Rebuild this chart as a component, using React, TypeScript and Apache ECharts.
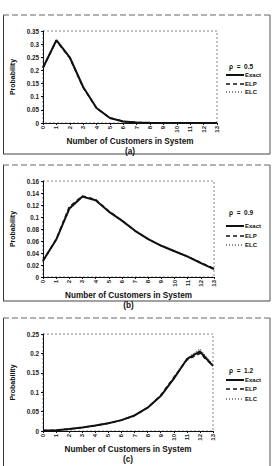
import React, { useEffect, useRef } from "react";
import * as echarts from "echarts";

const customers = ["0","1","2","3","4","5","6","7","8","9","10","11","12","13"];

const exactA = [0.21, 0.315, 0.25, 0.137, 0.057, 0.019, 0.006, 0.002, 0.0005, 0, 0, 0, 0, 0];
const elpA   = [0.21, 0.313, 0.247, 0.135, 0.056, 0.019, 0.006, 0.002, 0.0005, 0, 0, 0, 0, 0];
const elcA   = [0.21, 0.314, 0.249, 0.136, 0.056, 0.019, 0.006, 0.002, 0.0005, 0, 0, 0, 0, 0];

const exactB = [0.027, 0.062, 0.114, 0.134, 0.128, 0.109, 0.094, 0.077, 0.063, 0.052, 0.043, 0.034, 0.023, 0.013];
const elpB   = [0.027, 0.063, 0.117, 0.135, 0.129, 0.110, 0.094, 0.077, 0.063, 0.052, 0.043, 0.034, 0.024, 0.014];
const elcB   = [0.027, 0.062, 0.112, 0.133, 0.128, 0.109, 0.094, 0.077, 0.063, 0.052, 0.043, 0.035, 0.024, 0.013];

const exactC = [0.001, 0.002, 0.005, 0.009, 0.014, 0.02, 0.028, 0.04, 0.06, 0.09, 0.135, 0.185, 0.205, 0.168];
const elpC   = [0.001, 0.002, 0.005, 0.009, 0.014, 0.02, 0.028, 0.04, 0.06, 0.092, 0.138, 0.183, 0.2, 0.168];
const elcC   = [0.001, 0.002, 0.005, 0.009, 0.014, 0.02, 0.028, 0.04, 0.06, 0.091, 0.133, 0.187, 0.212, 0.17];

const panelTitles = ["(a)", "(b)", "(c)"];
const rhoLabels = ["\u03C1  =  0.5", "\u03C1  =  0.9", "\u03C1  =  1.2"];
const seriesNames = ["Exact", "ELP", "ELC"];
const yMax = [0.35, 0.16, 0.25];
const yStep = [0.05, 0.02, 0.05];

const FONT = "Liberation Sans, Arial, sans-serif";

export default function App() {
  const ref = useRef<HTMLDivElement>(null);
  useEffect(() => {
    if (!ref.current) return;
    const chart = echarts.init(ref.current, null, { renderer: "svg" });
    const grids = [
      { left: 43, top: 31, width: 174, height: 92 },
      { left: 43, top: 181, width: 171, height: 96 },
      { left: 43, top: 334, width: 170, height: 97 },
    ];
    const data = [
      [exactA, elpA, elcA],
      [exactB, elpB, elcB],
      [exactC, elpC, elcC],
    ];
    const lineStyles = [
      { type: "solid", width: 2 },
      { type: [4, 3], width: 1.5 },
      { type: [1, 2], width: 1 },
    ];
    const dashes: any[] = [null, [4, 3], [1, 2]];
    const widths = [2, 1.5, 1];
    const legendRows = [
      [75, 84, 92],
      [226, 236, 245],
      [380, 389, 399],
    ];
    const rhoY = [66, 212, 370];
    const boxes = [
      { top: 15, bottom: 154 },
      { top: 165, bottom: 301 },
      { top: 318, bottom: 470 },
    ];

    const series: any[] = [];
    data.forEach((set, gi) => {
      set.forEach((vals, si) => {
        series.push({
          type: "line",
          name: seriesNames[si],
          xAxisIndex: gi,
          yAxisIndex: gi,
          data: vals,
          symbol: "none",
          z: 3 - si,
          lineStyle: { color: "#111", ...lineStyles[si] },
          itemStyle: { color: "#111" },
        });
      });
    });

    const graphic: any[] = [];
    boxes.forEach((b) => {
      graphic.push(
        { type: "line", shape: { x1: 3.5, y1: b.top, x2: 3.5, y2: b.bottom }, style: { stroke: "#333", lineWidth: 1 } },
        { type: "line", shape: { x1: 270, y1: b.top, x2: 270, y2: b.bottom }, style: { stroke: "#555", lineWidth: 1 } },
        { type: "line", shape: { x1: 3, y1: b.top, x2: 270, y2: b.top }, style: { stroke: "#666", lineWidth: 1, lineDash: [6, 3] } },
        { type: "line", shape: { x1: 3, y1: b.bottom, x2: 270, y2: b.bottom }, style: { stroke: "#444", lineWidth: 1 } }
      );
    });
    grids.forEach((g, i) => {
      graphic.push({
        type: "rect",
        shape: { x: g.left, y: g.top, width: g.width, height: g.height },
        style: { fill: "none", stroke: "#888", lineWidth: 1, lineDash: [2, 2] },
        z: 0,
      });
      graphic.push({
        type: "text",
        x: 229,
        y: rhoY[i],
        style: { text: rhoLabels[i], font: `bold 6.5px ${FONT}`, fill: "#111", verticalAlign: "middle" },
      });
      legendRows[i].forEach((y, si) => {
        graphic.push({
          type: "line",
          shape: { x1: 226, y1: y, x2: 244, y2: y },
          style: { stroke: "#111", lineWidth: widths[si], lineDash: dashes[si] },
        });
        graphic.push({
          type: "text",
          x: 245,
          y,
          style: { text: seriesNames[si], font: `bold 6px ${FONT}`, fill: "#111", verticalAlign: "middle" },
        });
      });
    });

    chart.setOption({
      animation: false,
      backgroundColor: "#fff",
      grid: grids.map((g) => ({ ...g, containLabel: false })),
      xAxis: grids.map((_, i) => ({
        type: "category",
        gridIndex: i,
        data: customers,
        boundaryGap: false,
        axisLine: { lineStyle: { color: "#111", width: 1 } },
        axisTick: { show: true, length: 2, lineStyle: { color: "#111" } },
        axisLabel: { rotate: 90, fontSize: 6, fontWeight: "bold", color: "#222", fontFamily: FONT, margin: 3, interval: 0 },
        splitLine: { show: false },
        name: "Number of Customers in System\n" + panelTitles[i],
        nameLocation: "middle",
        nameGap: 10,
        nameTextStyle: { fontSize: 8.2, fontWeight: "bold", color: "#111", fontFamily: FONT, lineHeight: 10, verticalAlign: "top" },
      })),
      yAxis: grids.map((_, i) => ({
        type: "value",
        gridIndex: i,
        min: 0,
        max: yMax[i],
        interval: yStep[i],
        axisLine: { show: true, lineStyle: { color: "#111", width: 1 } },
        axisTick: { show: true, length: 2, lineStyle: { color: "#111" } },
        axisLabel: { fontSize: 6.3, fontWeight: "bold", color: "#222", fontFamily: FONT, margin: 4 },
        splitLine: { show: false },
        name: "Probability",
        nameLocation: "middle",
        nameGap: 24,
        nameTextStyle: { fontSize: 7, fontWeight: "bold", color: "#111", fontFamily: FONT },
      })),
      graphic,
      series,
    });
    return () => chart.dispose();
  }, []);
  return (
    <div
      ref={ref}
      style={{ position: "fixed", left: 0, top: 0, width: 273, height: 466, background: "#fff" }}
    />
  );
}
